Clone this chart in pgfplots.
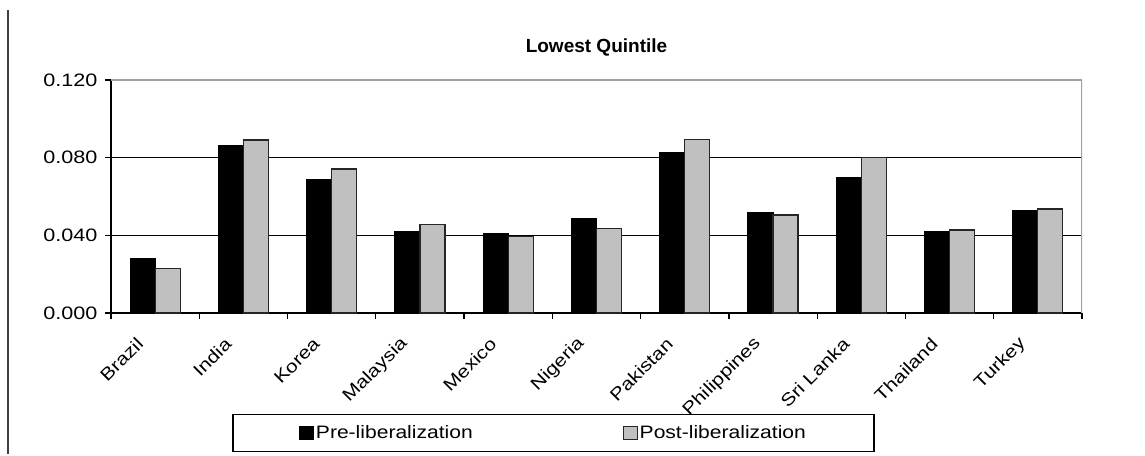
\documentclass[border=0pt]{standalone}
\usepackage{fontspec}
\setmainfont{Liberation Sans}
\newfontfamily\widefont[FakeStretch=1.2]{Liberation Sans}
\newfontfamily\legfont[FakeStretch=1.17]{Liberation Sans}
\usepackage{pgfplots}
\usepackage{pgfplotstable}
\pgfplotsset{compat=1.18}
\definecolor{postgray}{HTML}{C0C0C0}
\definecolor{framegray}{HTML}{A0A0A0}

% lowest quintile income share
\pgfplotstableread{
idx pre    post
0   0.0280 0.0228
1   0.0864 0.0891
2   0.0685 0.0742
3   0.0419 0.0457
4   0.0408 0.0393
5   0.0488 0.0436
6   0.0824 0.0893
7   0.0517 0.0505
8   0.0699 0.0802
9   0.0419 0.0427
10  0.0529 0.0536
}\quintile

\begin{document}
\begin{tikzpicture}
\begin{axis}[
    scale only axis,
    width=971pt, height=233pt,
    ybar=0pt, bar width=25pt,
    xmin=-0.5, xmax=10.5,
    ymin=0, ymax=0.12,
    axis lines*=left,
    axis line style={black, line width=1.2pt},
    tick align=outside,
    major tick length=6pt, minor tick length=6pt,
    tick style={black, line width=1.2pt},
    xtick={0,...,10},
    major x tick style={draw=none},
    minor xtick={-0.5,0.5,...,10.5},
    xticklabels={Brazil,India,Korea,Malaysia,Mexico,Nigeria,Pakistan,Philippines,Sri Lanka,Thailand,Turkey},
    xticklabel style={xshift=-15pt, yshift=-22pt, rotate=45, anchor=east, inner sep=0pt,
        font=\widefont\fontsize{17.5}{19}\selectfont},
    ytick={0,0.04,0.08,0.12},
    ymajorgrids,
    grid style={black, line width=1.2pt},
    /pgf/number format/.cd, fixed, fixed zerofill, precision=3, assume math mode=true,
    /pgfplots/.cd,
    yticklabel style={font=\widefont\fontsize{18}{20}\selectfont, xshift=-4pt},
    title={Lowest Quintile},
    title style={at={(0.5,1)}, anchor=center, yshift=27pt,
        font=\bfseries\fontsize{19}{21}\selectfont},
    legend columns=2,
    legend style={at={(0.4557,-0.515)}, anchor=center, draw=black, line width=1.4pt,
        font=\legfont\fontsize{18}{20}\selectfont, inner xsep=66pt, inner ysep=9pt,
        /tikz/every even column/.append style={column sep=148pt}},
    legend image code/.code={\draw[#1, line width=0.9pt] (0pt,-6.5pt) rectangle (14pt,6.5pt);},
]
\addplot[fill=black, draw=black, line width=1.2pt] table[x=idx, y=pre] {\quintile};
\addplot[fill=postgray, draw=black!85, line width=1.2pt] table[x=idx, y=post] {\quintile};
\legend{Pre-liberalization, Post-liberalization}
\draw[framegray, line width=1.2pt] (axis cs:-0.5,0.12) -- (axis cs:10.5,0.12) -- (axis cs:10.5,0);
\end{axis}
\draw[black!75, line width=2pt] (-103pt,-141pt) -- (-103pt,303pt);
\path[use as bounding box] (-111pt,-141pt) rectangle (1034pt,313pt);
\end{tikzpicture}
\end{document}
